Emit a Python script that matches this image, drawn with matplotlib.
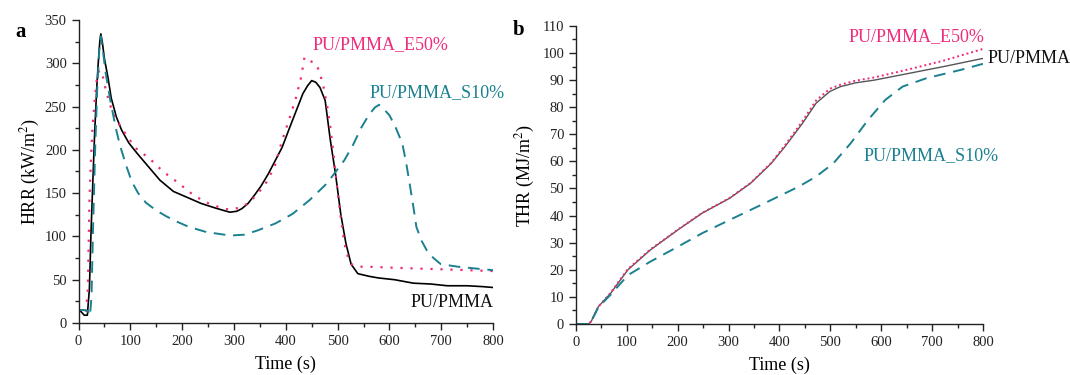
import matplotlib

matplotlib.use("Agg")
import matplotlib.pyplot as plt
from matplotlib.ticker import MultipleLocator

plt.rcParams["font.family"] = ["Liberation Serif", "DejaVu Serif"]
plt.rcParams["mathtext.fontset"] = "stix"

PINK = "#ee2a7b"
TEAL = "#1b8090"

# HRR (kW/m2)
hrr_t_pu = [0, 5, 11, 17, 21, 24, 28, 31, 35, 38, 41, 43, 46, 50, 57, 63, 73, 83, 97, 113, 130, 157,
            183, 210, 237, 263, 280, 292, 305, 315, 327, 340, 352, 366, 380, 393, 407,
            420, 433, 442, 450, 458, 466, 476, 486, 496, 506, 516, 526, 539, 560, 579, 610, 646, 680, 712,
            750, 780, 800]
hrr_pu = [15, 13, 9, 9, 40, 103, 170, 218, 270, 300, 325, 334, 324, 305, 283, 260, 238, 223, 208, 196, 184,
          165, 152, 145, 138, 133, 130, 128, 129, 132, 138, 148, 158, 172, 188, 203,
          225, 245, 265, 274, 280, 278, 272, 257, 211, 172, 126, 92, 68, 57, 54, 52, 50, 46, 45, 43, 43, 42, 41]

hrr_t_e50 = [0, 8, 14, 18, 21, 24, 27, 31, 35, 40, 44, 48, 53, 62, 70, 80, 90, 110, 137, 163, 190, 217, 243,
             270, 290, 310, 327, 344, 361, 378, 393, 407, 420, 430, 436, 446, 459, 466, 473, 480, 486, 493,
             499, 506, 513, 520, 526, 540, 560, 600, 650, 700, 750, 800]
hrr_e50 = [15, 14, 11, 40, 141, 190, 226, 256, 280, 292, 291, 282, 268, 250, 238, 228, 219, 202, 190, 175,
           163, 150, 140, 134, 131, 133, 138, 148, 161, 180, 211, 236, 261, 285, 307, 303, 299, 288, 272, 250,
           226, 190, 157, 122, 92, 76, 68, 65, 65, 64, 63, 62, 61, 60]

hrr_t_s10 = [0, 10, 18, 22, 25, 28, 32, 36, 40, 43, 47, 52, 62, 72, 80, 93, 103, 115, 130, 150, 170, 190, 213,
             247, 270, 293, 320, 346, 380, 413, 446, 479, 513, 530, 546, 560, 572, 580, 586, 600, 612, 625,
             632, 639, 646, 652, 662, 672, 685, 699, 732, 765, 800]
hrr_s10 = [15, 15, 14, 8, 30, 110, 200, 270, 315, 331, 315, 290, 255, 225, 205, 180, 163, 150, 139, 130, 123,
           117, 111, 105, 103, 101, 102, 107, 115, 126, 142, 161, 188, 206, 226, 240, 249, 252, 249, 240,
           226, 207, 186, 161, 135, 111, 95, 84, 75, 68, 65, 63, 61]

# THR (MJ/m2)
thr_t_pu = [0, 25, 30, 44, 68, 102, 146, 200, 248, 302, 343, 384, 411, 445, 472, 499, 520, 550, 587, 655,
            723, 800]
thr_pu = [0, 0, 1, 6.4, 11.3, 20, 27.3, 34.7, 40.9, 46.4, 51.9, 59.3, 65.5, 74, 81.5, 85.8, 87.6, 89, 90,
          92.5, 95, 98]

thr_t_e50 = [0, 25, 30, 44, 68, 102, 146, 200, 248, 302, 343, 384, 411, 445, 472, 499, 520, 550, 587, 655,
             723, 800]
thr_e50 = [0, 0, 1, 6.4, 11.5, 20.3, 27.5, 34.8, 41, 46.5, 52, 59.5, 66, 74.8, 82.5, 86.8, 88.3, 89.8, 91,
           94, 97.2, 101.5]

thr_t_s10 = [0, 25, 30, 44, 68, 102, 146, 200, 248, 302, 370, 438, 472, 506, 540, 574, 608, 642, 689, 757, 800]
thr_s10 = [0, 0, 1, 6.2, 10.8, 18, 23, 28.5, 33.5, 38.4, 44.5, 50.7, 54.4, 59.3, 66.7, 75.3, 82.7, 87.6,
           90.7, 93.8, 96]


def style_axes(ax, ymax, ymajor, yminor):
    ax.set_xlim(0, 800)
    ax.set_ylim(0, ymax)
    ax.xaxis.set_major_locator(MultipleLocator(100))
    ax.xaxis.set_minor_locator(MultipleLocator(50))
    ax.yaxis.set_major_locator(MultipleLocator(ymajor))
    ax.yaxis.set_minor_locator(MultipleLocator(yminor))
    for side in ("top", "right"):
        ax.spines[side].set_visible(False)
    for side in ("left", "bottom"):
        ax.spines[side].set_linewidth(1.0)
        ax.spines[side].set_color("#222222")
    ax.tick_params(which="major", direction="out", length=5, width=1, labelsize=10.5, colors="#222222")
    ax.tick_params(which="minor", direction="out", length=3, width=1, colors="#222222")
    ax.set_xlabel("Time (s)", fontsize=13, labelpad=6)


fig = plt.figure(figsize=(10.7, 3.75), dpi=100)
ax1 = fig.add_axes((0.0734, 0.1387, 0.3874, 0.808))
ax2 = fig.add_axes((0.5383, 0.136, 0.3804, 0.795))

# panel a
ax1.plot(hrr_t_pu, hrr_pu, color="black", lw=1.2)
ax1.plot(hrr_t_e50, hrr_e50, color=PINK, lw=1.6, ls=(0, (1, 3.5)))
ax1.plot(hrr_t_s10, hrr_s10, color=TEAL, lw=1.4, ls=(0, (6, 4)))
style_axes(ax1, 350, 50, 25)
ax1.set_ylabel("HRR (kW/m$^2$)", fontsize=13, labelpad=2)
ax1.text(451, 322, "PU/PMMA_E50%", color=PINK, fontsize=13, va="center")
ax1.text(561, 266, "PU/PMMA_S10%", color=TEAL, fontsize=13, va="center")
ax1.text(641, 24, "PU/PMMA", color="#111111", fontsize=13, va="center")

# panel b
ax2.plot(thr_t_pu, thr_pu, color="#555555", lw=1.0)
ax2.plot(thr_t_e50, thr_e50, color=PINK, lw=1.4, ls=(0, (1, 1.5)))
ax2.plot(thr_t_s10, thr_s10, color=TEAL, lw=1.4, ls=(0, (6, 4)))
style_axes(ax2, 110, 10, 5)
ax2.set_ylabel("THR (MJ/m$^2$)", fontsize=13, labelpad=4)
ax2.text(535, 106, "PU/PMMA_E50%", color=PINK, fontsize=13, va="center")
ax2.text(808, 98, "PU/PMMA", color="#111111", fontsize=13, va="center", clip_on=False)
ax2.text(566, 62, "PU/PMMA_S10%", color=TEAL, fontsize=13, va="center")

fig.text(0.014, 0.915, "a", fontsize=15, fontweight="bold", va="center")
fig.text(0.479, 0.92, "b", fontsize=15, fontweight="bold", va="center")

fig.savefig("out.png", dpi=100)
